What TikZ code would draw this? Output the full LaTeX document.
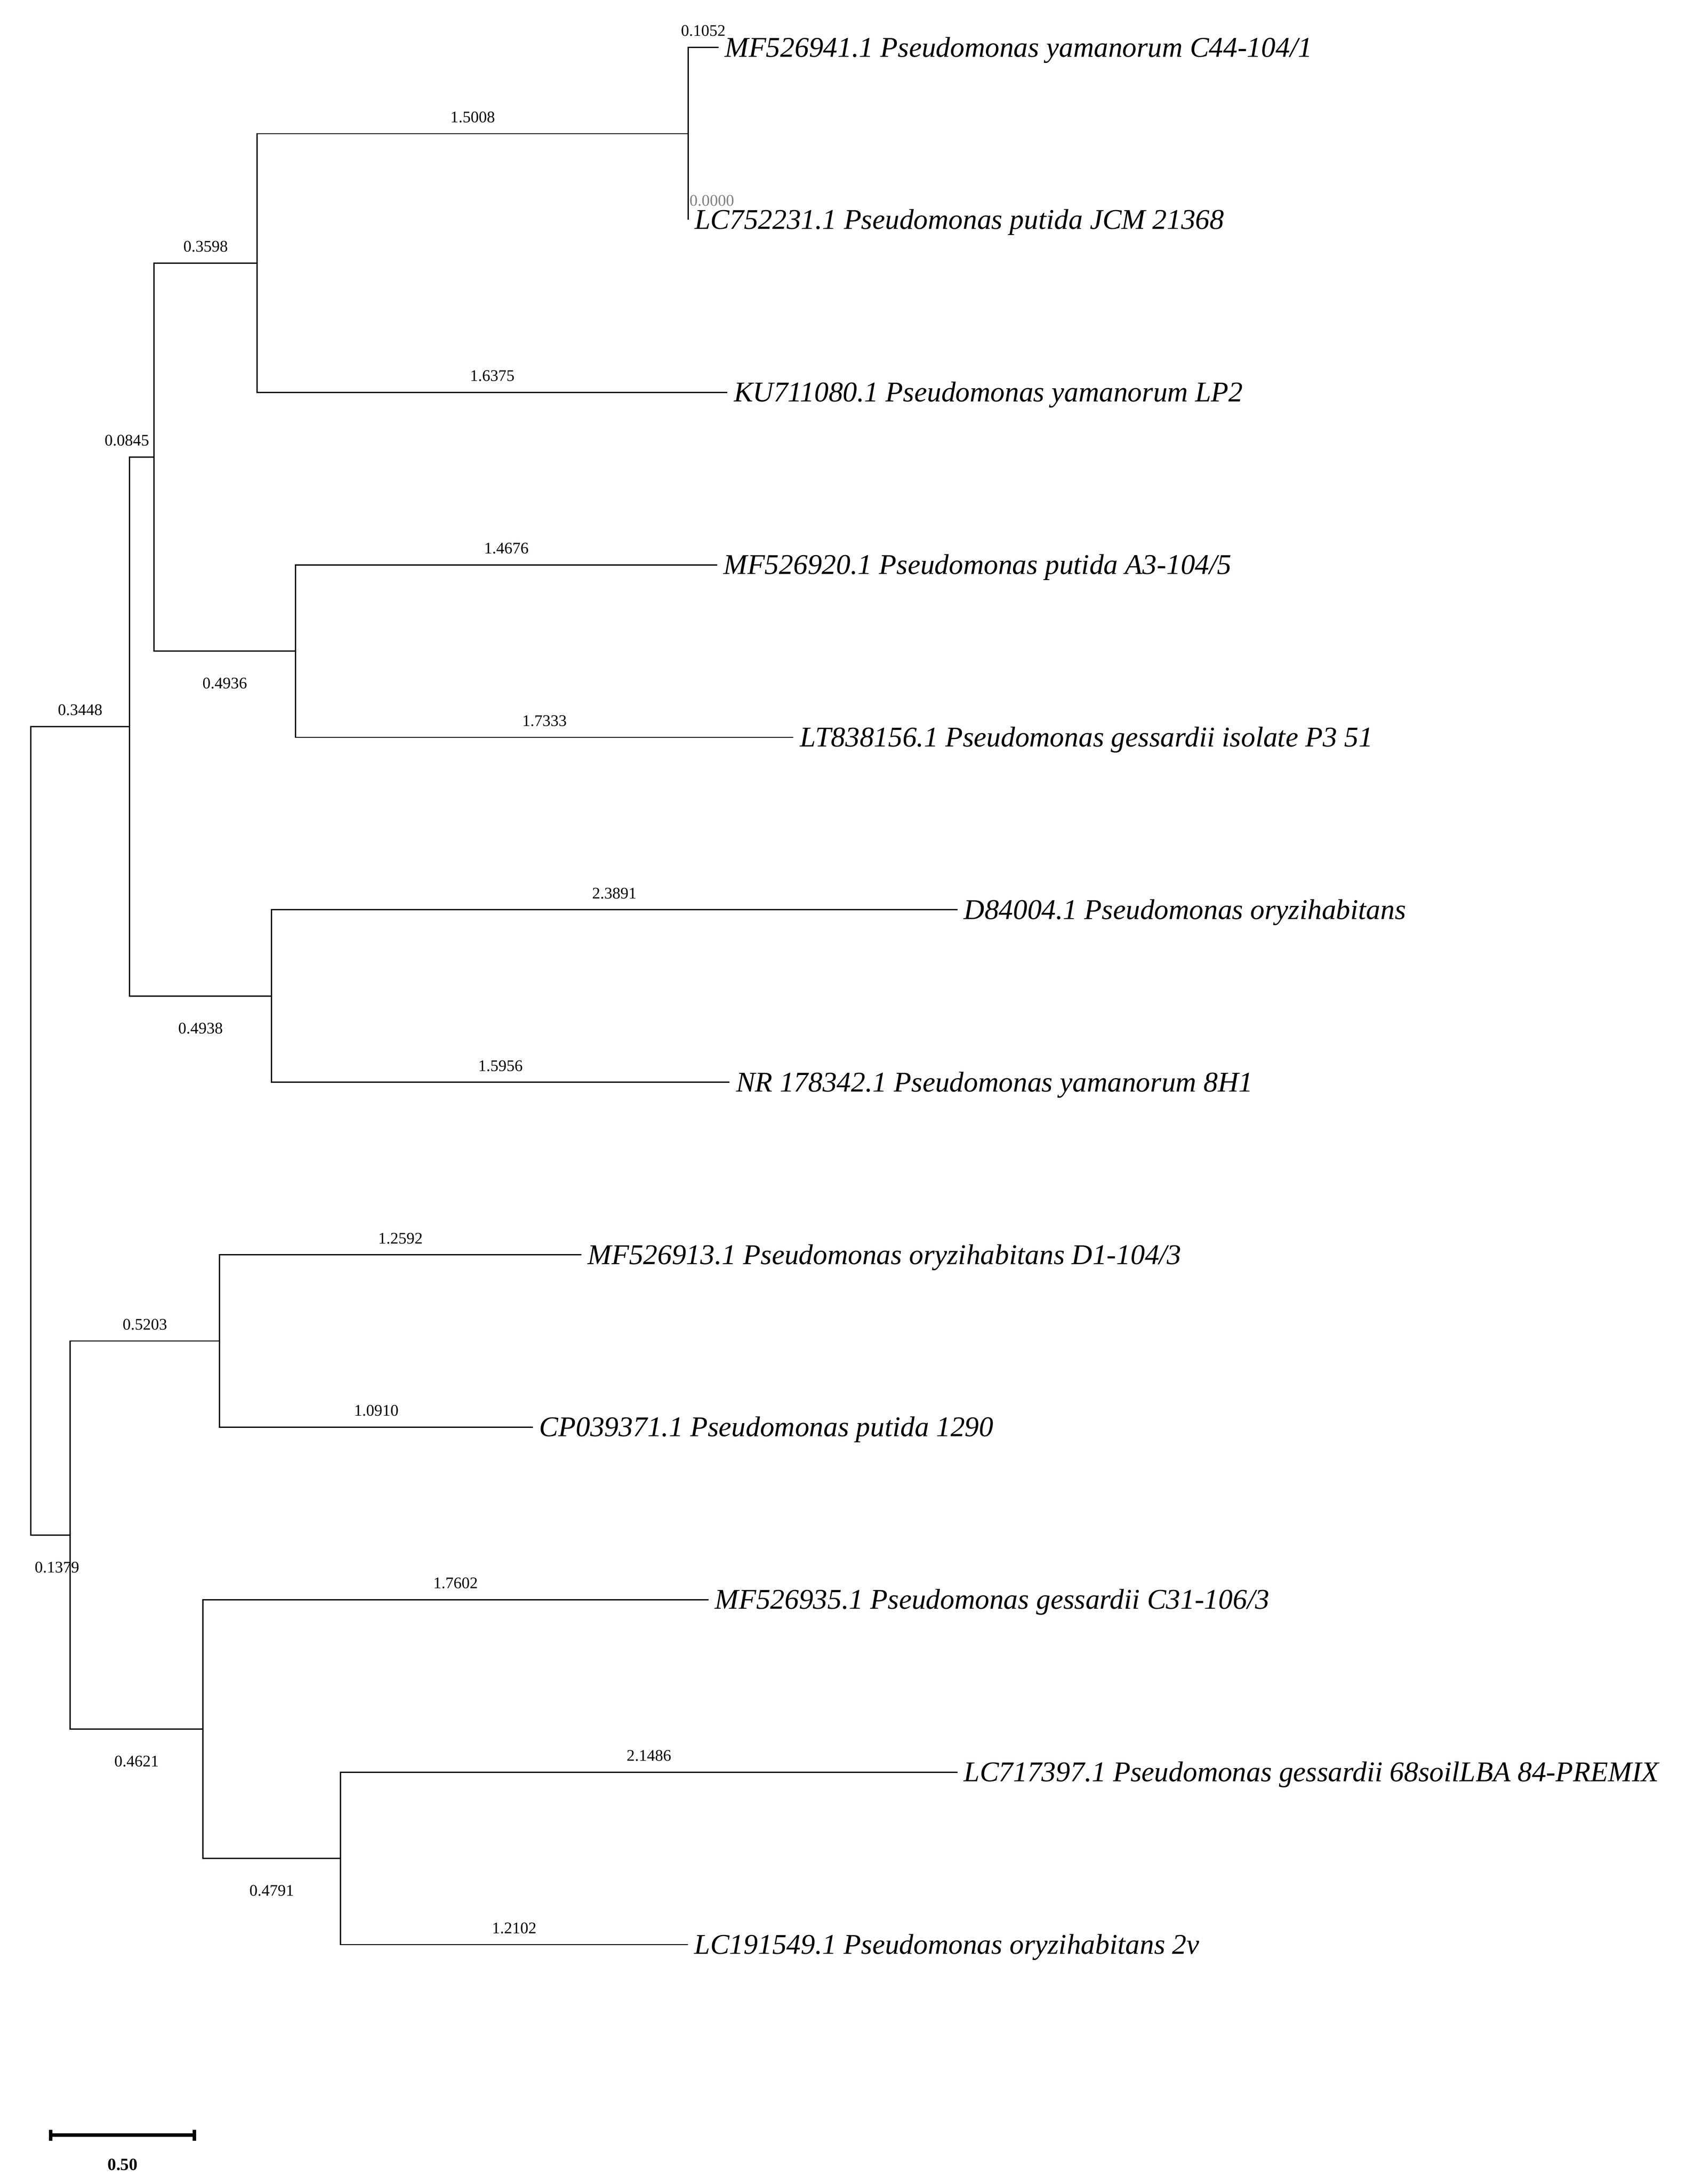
\documentclass[tikz,border=0pt]{standalone}
\usepackage{xcolor}
\usepackage{tikz}
\usepackage{fontspec}
\setmainfont{Liberation Serif}

\begin{document}
\begin{tikzpicture}[x=1pt,y=-1pt,
  branch/.style={line width=0.9pt},
  taxon/.style={anchor=west,inner xsep=4.5pt,inner ysep=0pt,text height=13.5pt,text depth=0pt,font=\fontsize{20.5}{24}\selectfont\itshape},
  blen/.style={font=\fontsize{11.6}{13}\selectfont,inner sep=0pt,anchor=base},
  bup/.style={blen,yshift=8pt},
  bdown/.style={blen,yshift=-27pt}]
\useasboundingbox (0,0) rectangle (1210.35,1567);

\coordinate (root) at (22,811.3);
\coordinate (cA) at (93.03,521.26);
\coordinate (cB) at (110.44,327.9);
\coordinate (cC) at (184.56,188.69);
\coordinate (cD) at (493.72,95.88);
\coordinate (cE) at (212.12,467.13);
\coordinate (cF) at (194.75,714.63);
\coordinate (cG) at (50.41,1101.34);
\coordinate (cH) at (157.59,962.13);
\coordinate (cI) at (145.60,1240.56);
\coordinate (cJ) at (244.29,1333.38);

\coordinate (t1) at (515.39,34);
\coordinate (t2) at (493.72,157.75);
\coordinate (t3) at (521.89,281.5);
\coordinate (t4) at (514.45,405.25);
\coordinate (t5) at (569.18,529);
\coordinate (t6) at (686.90,652.75);
\coordinate (t7) at (523.44,776.5);
\coordinate (t8) at (416.99,900.25);
\coordinate (t9) at (382.34,1024);
\coordinate (t10) at (508.20,1147.75);
\coordinate (t11) at (686.90,1271.5);
\coordinate (t12) at (493.59,1395.25);

\draw[branch] (root) |- node[bup,pos=0.75] (bA) {0.3448} (cA);
\draw[branch] (root) |- node[bdown,pos=0.75,xshift=4.7pt] (bG) {0.1379} (cG);
\draw[branch] (cA) |- node[bup,pos=0.75,xshift=-10.7pt] (bB) {0.0845} (cB);
\draw[branch] (cA) |- node[bdown,pos=0.75] (bF) {0.4938} (cF);
\draw[branch] (cB) |- node[bup,pos=0.75] (bC) {0.3598} (cC);
\draw[branch] (cB) |- node[bdown,pos=0.75] (bE) {0.4936} (cE);
\draw[branch] (cC) |- node[bup,pos=0.75] (bD) {1.5008} (cD);
\draw[branch] (cC) |- node[bup,pos=0.75] (b3) {1.6375} (t3);
\draw[branch] (cD) |- node[bup,pos=0.75] (b1) {0.1052} (t1);
\draw[branch] (cD) |- node[bup,pos=0.75,xshift=17pt,yshift=2pt,text=gray] (b2) {0.0000} (t2);
\draw[branch] (cE) |- node[bup,pos=0.75] (b4) {1.4676} (t4);
\draw[branch] (cE) |- node[bup,pos=0.75] (b5) {1.7333} (t5);
\draw[branch] (cF) |- node[bup,pos=0.75] (b6) {2.3891} (t6);
\draw[branch] (cF) |- node[bup,pos=0.75] (b7) {1.5956} (t7);
\draw[branch] (cG) |- node[bup,pos=0.75] (bH) {0.5203} (cH);
\draw[branch] (cG) |- node[bdown,pos=0.75] (bI) {0.4621} (cI);
\draw[branch] (cH) |- node[bup,pos=0.75] (b8) {1.2592} (t8);
\draw[branch] (cH) |- node[bup,pos=0.75] (b9) {1.0910} (t9);
\draw[branch] (cI) |- node[bup,pos=0.75] (b10) {1.7602} (t10);
\draw[branch] (cI) |- node[bdown,pos=0.75] (bJ) {0.4791} (cJ);
\draw[branch] (cJ) |- node[bup,pos=0.75] (b11) {2.1486} (t11);
\draw[branch] (cJ) |- node[bup,pos=0.75] (b12) {1.2102} (t12);

\node[taxon] (n1) at (t1) {MF526941.1 Pseudomonas yamanorum C44-104/1};
\node[taxon] (n2) at (t2) {LC752231.1 Pseudomonas putida JCM 21368};
\node[taxon] (n3) at (t3) {KU711080.1 Pseudomonas yamanorum LP2};
\node[taxon] (n4) at (t4) {MF526920.1 Pseudomonas putida A3-104/5};
\node[taxon] (n5) at (t5) {LT838156.1 Pseudomonas gessardii isolate P3 51};
\node[taxon] (n6) at (t6) {D84004.1 Pseudomonas oryzihabitans};
\node[taxon] (n7) at (t7) {NR 178342.1 Pseudomonas yamanorum 8H1};
\node[taxon] (n8) at (t8) {MF526913.1 Pseudomonas oryzihabitans D1-104/3};
\node[taxon] (n9) at (t9) {CP039371.1 Pseudomonas putida 1290};
\node[taxon] (n10) at (t10) {MF526935.1 Pseudomonas gessardii C31-106/3};
\node[taxon] (n11) at (t11) {LC717397.1 Pseudomonas gessardii 68soilLBA 84-PREMIX};
\node[taxon] (n12) at (t12) {LC191549.1 Pseudomonas oryzihabitans 2v};

\coordinate (sbl) at (36.5,1532);
\coordinate (sbr) at (139.5,1532);
\draw[line width=2.5pt] (sbl) -- (sbr);
\draw[line width=2.5pt] ([yshift=4pt]sbl) -- ([yshift=-4pt]sbl);
\draw[line width=2.5pt] ([yshift=4pt]sbr) -- ([yshift=-4pt]sbr);
\node[font=\fontsize{12.3}{14}\selectfont\bfseries,anchor=base] (sblab) at (88,1557) {0.50};
\end{tikzpicture}
\end{document}
